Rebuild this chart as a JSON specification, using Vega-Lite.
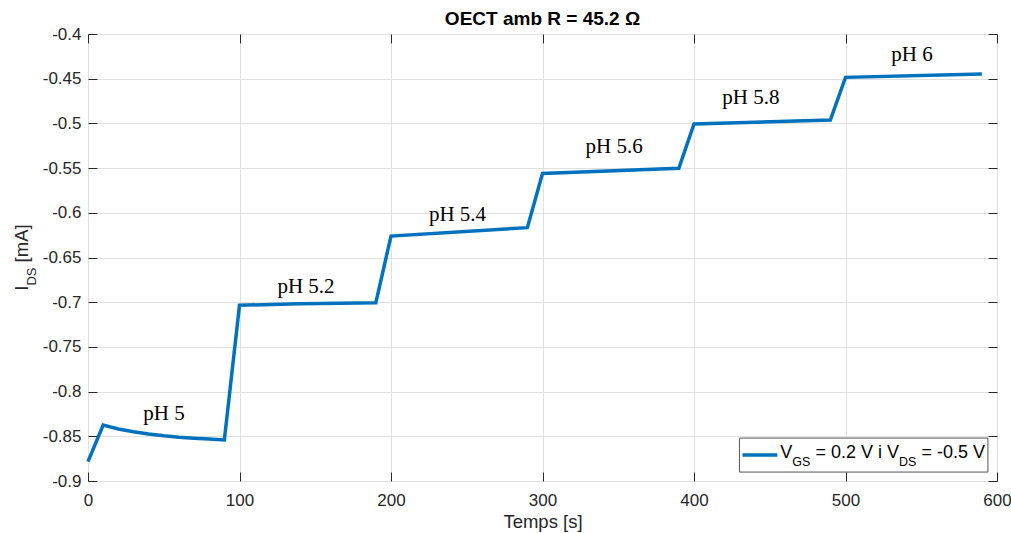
{
  "$schema": "https://vega.github.io/schema/vega-lite/v6.json",
  "width": 909,
  "height": 447,
  "autosize": "none",
  "padding": {"left": 88, "top": 34, "right": 14, "bottom": 52},
  "background": "white",
  "config": {
    "view": {"stroke": "#262626", "strokeWidth": 1},
    "font": "Liberation Sans",
    "axis": {
      "labelFont": "Liberation Sans",
      "labelFontSize": 17,
      "labelColor": "#262626",
      "domain": false,
      "tickColor": "#262626",
      "tickSize": -9,
      "tickWidth": 1,
      "gridColor": "#e0e0e0",
      "gridWidth": 1,
      "titleFont": "Liberation Sans",
      "titleFontSize": 18.5,
      "titleColor": "#262626",
      "titleFontWeight": "normal",
      "labelFlush": false,
      "minExtent": 0
    }
  },
  "title": {
    "text": "OECT amb R = 45.2 Ω",
    "fontSize": 19,
    "fontWeight": "bold",
    "font": "Liberation Sans",
    "color": "#000000",
    "anchor": "middle",
    "offset": -4
  },
  "datasets": {
    "curve": [
      {"t": 0, "i": -0.8784},
      {"t": 10, "i": -0.8374},
      {"t": 20, "i": -0.8418},
      {"t": 30, "i": -0.8450},
      {"t": 40, "i": -0.8475},
      {"t": 50, "i": -0.8495},
      {"t": 60, "i": -0.8510},
      {"t": 70, "i": -0.8521},
      {"t": 80, "i": -0.8531},
      {"t": 90, "i": -0.8541},
      {"t": 100, "i": -0.7035},
      {"t": 140, "i": -0.7016},
      {"t": 190, "i": -0.7005},
      {"t": 200, "i": -0.6260},
      {"t": 290, "i": -0.6166},
      {"t": 300, "i": -0.5560},
      {"t": 390, "i": -0.5503},
      {"t": 400, "i": -0.5007},
      {"t": 490, "i": -0.4962},
      {"t": 500, "i": -0.4485},
      {"t": 590, "i": -0.4447}
    ],
    "labels": [
      {"t": 50.2, "i": -0.8318, "label": "pH 5"},
      {"t": 143.9, "i": -0.6897, "label": "pH 5.2"},
      {"t": 243.9, "i": -0.6088, "label": "pH 5.4"},
      {"t": 347.3, "i": -0.5335, "label": "pH 5.6"},
      {"t": 437.5, "i": -0.4787, "label": "pH 5.8"},
      {"t": 543.9, "i": -0.4300, "label": "pH 6"}
    ]
  },
  "resolve": {"axis": {"x": "independent", "y": "independent"}},
  "layer": [
    {
      "data": {"name": "curve"},
      "mark": {"type": "line", "color": "#0072BD", "strokeWidth": 3.5},
      "encoding": {
        "x": {
          "field": "t", "type": "quantitative",
          "scale": {"domain": [0, 600], "nice": false},
          "axis": {"orient": "bottom", "values": [0, 100, 200, 300, 400, 500, 600], "format": "d", "title": "Temps [s]", "grid": true, "labelPadding": 20, "titlePadding": 4}
        },
        "y": {
          "field": "i", "type": "quantitative",
          "scale": {"domain": [-0.9, -0.4], "nice": false, "zero": false},
          "axis": {"orient": "left", "values": [-0.9, -0.85, -0.8, -0.75, -0.7, -0.65, -0.6, -0.55, -0.5, -0.45, -0.4], "labelExpr": "datum.value < 0 ? '-' + format(-datum.value, '~g') : format(datum.value, '~g')", "title": null, "grid": true, "labelPadding": 16}
        }
      }
    },
    {
      "data": {"name": "curve"},
      "mark": {"type": "line", "strokeOpacity": 0},
      "encoding": {
        "x": {
          "field": "t", "type": "quantitative",
          "scale": {"domain": [0, 600], "nice": false},
          "axis": {"orient": "top", "values": [0, 100, 200, 300, 400, 500, 600], "labels": false, "title": null, "grid": false, "minExtent": 0, "maxExtent": 0}
        },
        "y": {
          "field": "i", "type": "quantitative",
          "scale": {"domain": [-0.9, -0.4], "nice": false, "zero": false},
          "axis": {"orient": "right", "values": [-0.9, -0.85, -0.8, -0.75, -0.7, -0.65, -0.6, -0.55, -0.5, -0.45, -0.4], "labels": false, "title": null, "grid": false, "minExtent": 0, "maxExtent": 0}
        }
      }
    },
    {
      "data": {"name": "labels"},
      "mark": {"type": "text", "font": "Liberation Serif", "fontSize": 21, "color": "#000000", "align": "center", "baseline": "alphabetic"},
      "encoding": {
        "x": {"field": "t", "type": "quantitative", "axis": null, "scale": {"domain": [0, 600], "nice": false}},
        "y": {"field": "i", "type": "quantitative", "axis": null, "scale": {"domain": [-0.9, -0.4], "nice": false, "zero": false}},
        "text": {"field": "label"}
      }
    },
    {
      "data": {"values": [{}]},
      "layer": [
        {
          "mark": {"type": "rect", "fill": "#ffffff", "stroke": "#555555", "strokeWidth": 1},
          "encoding": {
            "x": {"datum": 430, "type": "quantitative", "axis": null, "scale": {"domain": [0, 600], "nice": false}},
            "x2": {"datum": 594},
            "y": {"datum": -0.852, "type": "quantitative", "axis": null, "scale": {"domain": [-0.9, -0.4], "nice": false, "zero": false}},
            "y2": {"datum": -0.890}
          }
        },
        {
          "mark": {"type": "rule", "color": "#0072BD", "strokeWidth": 3.5},
          "encoding": {
            "x": {"datum": 432, "type": "quantitative", "axis": null, "scale": {"domain": [0, 600], "nice": false}},
            "x2": {"datum": 455},
            "y": {"datum": -0.871, "type": "quantitative", "axis": null, "scale": {"domain": [-0.9, -0.4], "nice": false, "zero": false}}
          }
        },
        {
          "encoding": {
            "x": {"datum": 457, "type": "quantitative", "axis": null, "scale": {"domain": [0, 600], "nice": false}},
            "y": {"datum": -0.871, "type": "quantitative", "axis": null, "scale": {"domain": [-0.9, -0.4], "nice": false, "zero": false}}
          },
          "layer": [
            {"mark": {"type": "text", "text": "V", "fontSize": 18, "font": "Liberation Sans", "color": "#000000", "align": "left", "baseline": "alphabetic", "dx": 0, "dy": 3}},
            {"mark": {"type": "text", "text": "GS", "fontSize": 12.5, "font": "Liberation Sans", "color": "#000000", "align": "left", "baseline": "alphabetic", "dx": 12, "dy": 11}},
            {"mark": {"type": "text", "text": "= 0.2 V i V", "fontSize": 18, "font": "Liberation Sans", "color": "#000000", "align": "left", "baseline": "alphabetic", "dx": 35.1, "dy": 3}},
            {"mark": {"type": "text", "text": "DS", "fontSize": 12.5, "font": "Liberation Sans", "color": "#000000", "align": "left", "baseline": "alphabetic", "dx": 118.7, "dy": 11}},
            {"mark": {"type": "text", "text": "= -0.5 V", "fontSize": 18, "font": "Liberation Sans", "color": "#000000", "align": "left", "baseline": "alphabetic", "dx": 141.1, "dy": 3}}
          ]
        }
      ]
    },
    {
      "data": {"values": [{}]},
      "encoding": {
        "x": {"datum": 0, "type": "quantitative", "axis": null, "scale": {"domain": [0, 600], "nice": false}},
        "y": {"datum": -0.65, "type": "quantitative", "axis": null, "scale": {"domain": [-0.9, -0.4], "nice": false, "zero": false}}
      },
      "layer": [
        {"mark": {"type": "text", "text": "I", "fontSize": 18.5, "font": "Liberation Sans", "color": "#262626", "align": "left", "baseline": "alphabetic", "angle": 270, "dx": -33.2, "dy": -60}},
        {"mark": {"type": "text", "text": "DS", "fontSize": 13, "font": "Liberation Sans", "color": "#262626", "align": "left", "baseline": "alphabetic", "angle": 270, "dx": -28.1, "dy": -52}},
        {"mark": {"type": "text", "text": "[mA]", "fontSize": 18.5, "font": "Liberation Sans", "color": "#262626", "align": "left", "baseline": "alphabetic", "angle": 270, "dx": -4.9, "dy": -60}}
      ]
    }
  ]
}
